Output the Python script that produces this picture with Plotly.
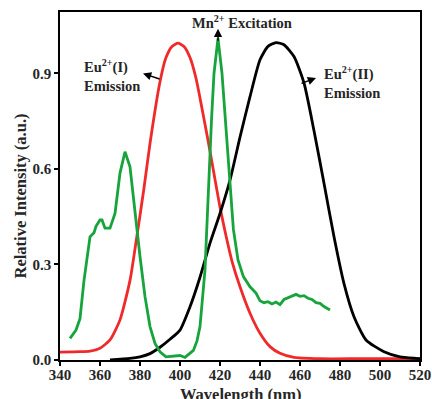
import plotly.graph_objects as go

# Eu2+(I) emission (red)
red_wl = [340, 350, 355, 360, 365, 370, 375, 378, 382, 385, 390, 393, 396, 399, 402, 405, 408, 411, 414, 417, 420, 423, 426, 430, 435, 440, 445, 450, 457, 470, 490, 520]
red_val = [0.025, 0.026, 0.028, 0.037, 0.063, 0.126, 0.25, 0.37, 0.54, 0.68, 0.874, 0.95, 0.985, 0.995, 0.985, 0.95, 0.885, 0.79, 0.69, 0.585, 0.48, 0.39, 0.31, 0.23, 0.147, 0.084, 0.042, 0.021, 0.008, 0.004, 0.004, 0.004]

# Eu2+(II) emission (black)
blk_wl = [365, 375, 380, 385, 390, 395, 400, 405, 410, 415, 420, 425, 430, 435, 440, 444, 448, 452, 457, 462, 467, 472, 477, 482, 487, 493, 502, 510, 518, 520]
blk_val = [0.0, 0.005, 0.01, 0.02, 0.04, 0.065, 0.094, 0.167, 0.26, 0.367, 0.46, 0.565, 0.70, 0.827, 0.943, 0.985, 0.997, 0.99, 0.953, 0.87, 0.72, 0.555, 0.387, 0.24, 0.136, 0.063, 0.026, 0.01, 0.005, 0.004]

# Mn2+ excitation (green)
grn_wl = [345, 348, 350, 352, 355, 357, 358, 360, 361, 362.5, 365, 367.5, 370, 372.5, 375, 377.5, 380, 382.5, 385, 387.5, 390, 393, 396, 400, 402.5, 404, 406.7, 408.5, 410, 412.5, 414.2, 415.8, 417, 419, 421, 423, 424.5, 426.7, 429, 431.7, 435, 438, 440, 442, 444, 446, 448, 450, 452, 454, 456, 458, 460, 462, 464, 466, 468, 470, 472, 475]
grn_val = [0.068, 0.094, 0.13, 0.25, 0.387, 0.40, 0.42, 0.44, 0.44, 0.414, 0.414, 0.46, 0.587, 0.654, 0.607, 0.46, 0.325, 0.199, 0.105, 0.052, 0.026, 0.01, 0.012, 0.014, 0.008, 0.015, 0.03, 0.06, 0.105, 0.283, 0.545, 0.76, 0.9, 1.01, 0.9, 0.72, 0.58, 0.41, 0.314, 0.262, 0.23, 0.21, 0.186, 0.18, 0.183, 0.176, 0.182, 0.174, 0.19, 0.195, 0.2, 0.206, 0.2, 0.202, 0.194, 0.19, 0.18, 0.178, 0.168, 0.157]

x_ticks = [340, 360, 380, 400, 420, 440, 460, 480, 500, 520]
y_ticks = [0.0, 0.3, 0.6, 0.9]

FONT = "Liberation Serif"
TXT = "#262626"

fig = go.Figure()
fig.add_trace(go.Scatter(x=red_wl, y=red_val, mode="lines",
                         line=dict(color="#f02a2a", width=2.8, shape="spline", smoothing=0.6)))
fig.add_trace(go.Scatter(x=blk_wl, y=blk_val, mode="lines",
                         line=dict(color="#000000", width=2.8, shape="spline", smoothing=0.6)))
fig.add_trace(go.Scatter(x=grn_wl, y=grn_val, mode="lines",
                         line=dict(color="#17a43c", width=2.8)))

annots = [
    dict(x=351, y=0.893, text="Eu<sup>2+</sup>(I)<br>Emission", xanchor="left", yanchor="middle",
         showarrow=False, align="left"),
    dict(x=471, y=0.873, text="Eu<sup>2+</sup>(II)<br>Emission", xanchor="left", yanchor="middle",
         showarrow=False, align="left"),
    dict(x=431, y=1.062, text="Mn<sup>2+</sup> Excitation", xanchor="center", yanchor="middle",
         showarrow=False),
    # arrows
    dict(x=381.5, y=0.9, ax=390.5, ay=0.881, axref="x", ayref="y", text="", showarrow=True,
         arrowhead=2, arrowsize=1.1, arrowwidth=1.5, arrowcolor="black"),
    dict(x=419, y=1.04, ax=419, ay=0.998, axref="x", ayref="y", text="", showarrow=True,
         arrowhead=2, arrowsize=1.1, arrowwidth=1.5, arrowcolor="black"),
    dict(x=468, y=0.886, ax=460, ay=0.867, axref="x", ayref="y", text="", showarrow=True,
         arrowhead=2, arrowsize=1.1, arrowwidth=1.5, arrowcolor="black"),
]
for a in annots:
    a["font"] = dict(family=FONT, size=14.5, color=TXT, weight="bold")

# axis titles placed as paper-anchored texts
annots.append(dict(text="Wavelength (nm)", xref="paper", yref="paper", x=0.5, y=-0.1,
                   xanchor="center", yanchor="middle", showarrow=False,
                   font=dict(family=FONT, size=16.5, color=TXT, weight="bold")))
annots.append(dict(text="Relative Intensity (a.u.)", xref="paper", yref="paper", x=-0.111, y=0.47,
                   xanchor="center", yanchor="middle", showarrow=False, textangle=-90,
                   font=dict(family=FONT, size=16.5, color=TXT, weight="bold")))
fig.update_layout(annotations=annots)

fig.update_layout(
    template="none",
    width=432, height=399,
    margin=dict(l=60, r=12, t=12, b=39),
    showlegend=False,
    paper_bgcolor="white", plot_bgcolor="white",
    font=dict(family=FONT, size=15, color=TXT, weight="bold"),
)
fig.update_xaxes(range=[340, 520], tickvals=x_ticks, ticktext=[str(v) for v in x_ticks],
                 showgrid=False, zeroline=False, showline=True, linecolor="black", linewidth=1.5,
                 mirror=True, ticks="outside", ticklen=4, tickwidth=1.5, tickcolor="black",
                 ticklabelstandoff=-4, automargin=False)
fig.update_yaxes(range=[0, 1.093], tickvals=y_ticks, ticktext=[f"{v:.1f}" for v in y_ticks],
                 showgrid=False, zeroline=False, showline=True, linecolor="black", linewidth=1.5,
                 mirror=True, ticks="outside", ticklen=4, tickwidth=1.5, tickcolor="black",
                 automargin=False)

# remove the browser's default body margin so the figure sits at the page origin
fig.write_html("out.html",
               config={"displayModeBar": False},
               post_script="document.body.style.margin='0';document.body.style.overflow='hidden';")
